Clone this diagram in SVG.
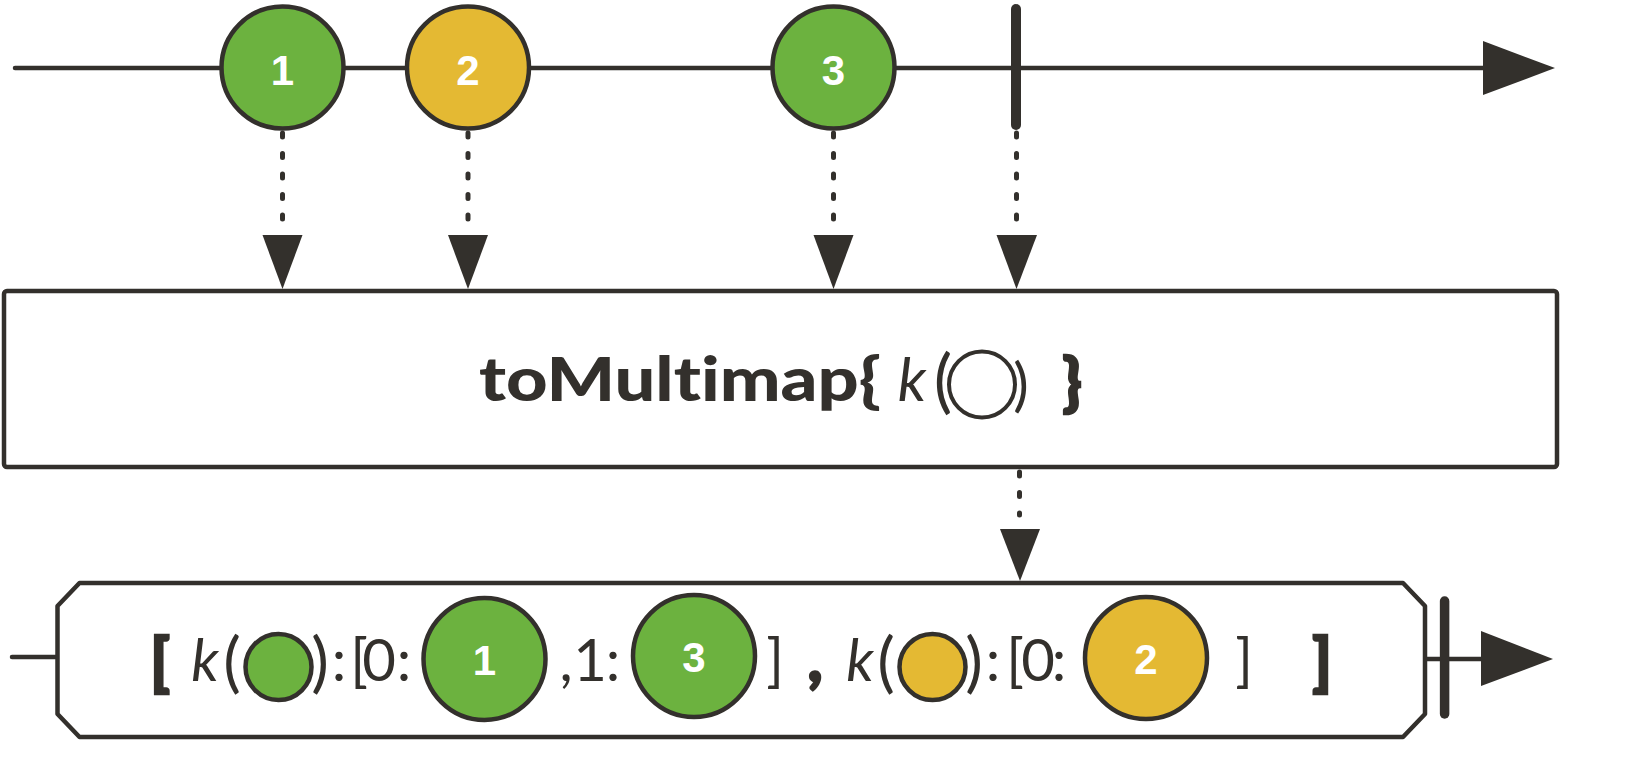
<svg xmlns="http://www.w3.org/2000/svg" width="1641" height="762" viewBox="0 0 1641 762">
<style>
.ln{stroke:#33302c;stroke-width:4.5;fill:none;stroke-linecap:round}
.dash{stroke:#33302c;stroke-width:5;fill:none;stroke-linecap:round;stroke-dasharray:4 16.5}
.ah{fill:#33302c}
.g{fill:#6cb23f;stroke:#33302c;stroke-width:4.5}
.y{fill:#e4b933;stroke:#33302c;stroke-width:4.5}
.o{fill:none;stroke:#33302c;stroke-width:4}
text{font-variant-ligatures:none}
.num{font-family:"Liberation Sans",Arial,sans-serif;font-weight:bold;font-size:42px;fill:#ffffff;text-anchor:middle}
.lt{font-family:Lato,"Open Sans",sans-serif;font-weight:400;font-size:58px;fill:#33302c;text-anchor:middle}
.it{font-style:italic}
.pr{font-size:66px}
.bd{font-family:Lato,"Open Sans",sans-serif;font-weight:900;font-size:62px;fill:#33302c;stroke:#33302c;stroke-width:2.5;text-anchor:middle}
.title{font-family:Lato,"Open Sans",sans-serif;font-weight:900;font-size:60px;fill:#33302c}
</style>
<g id="connectors">
<path class="dash" d="M282.5,133 V221"/>
<path class="ah" d="M262.5,235 H302.5 L282.5,289 Z"/>
<path class="dash" d="M468,133 V221"/>
<path class="ah" d="M448,235 H488 L468,289 Z"/>
<path class="dash" d="M833.5,133 V221"/>
<path class="ah" d="M813.5,235 H853.5 L833.5,289 Z"/>
<path class="dash" d="M1016.5,133 V221"/>
<path class="ah" d="M996.5,235 H1037 L1016.5,289 Z"/>
<path class="dash" d="M1019.5,472 V515"/>
<path class="ah" d="M1000,529 H1040 L1020,581 Z"/>
</g>
<g id="input-timeline">
<line class="ln" x1="15" y1="68" x2="1485" y2="68"/>
<path class="ah" d="M1483,41 L1555,68 L1483,95 Z"/>
<line x1="1016" y1="9" x2="1016" y2="125" stroke="#33302c" stroke-width="10" stroke-linecap="round"/>
</g>
<g id="marble-1">
<circle class="g" cx="282.5" cy="67.5" r="61"/>
<text class="num" x="282.5" y="85">1</text>
</g>
<g id="marble-2">
<circle class="y" cx="468" cy="67.5" r="61"/>
<text class="num" x="468" y="85">2</text>
</g>
<g id="marble-3">
<circle class="g" cx="833.5" cy="67.5" r="61"/>
<text class="num" x="833.5" y="85">3</text>
</g>
<g id="operator">
<rect x="4" y="291" width="1553" height="176" rx="3" fill="#ffffff" stroke="#33302c" stroke-width="4.5"/>
<text class="title" x="479" y="401" textLength="402" lengthAdjust="spacingAndGlyphs">toMultimap{</text>
<text class="lt" y="401"><tspan class="it" x="912" font-size="60">k</tspan><tspan x="943" y="405" font-size="69">(</tspan></text>
<circle class="o" cx="982" cy="384.5" r="33"/>
<text class="lt" x="1021" y="405" font-size="69">)</text>
<text class="bd" x="1072" y="404" font-size="68">}</text>
</g>
<g id="output-timeline">
<line class="ln" x1="12" y1="657" x2="57.5" y2="657"/>
<line class="ln" x1="1425" y1="659" x2="1483" y2="659" stroke-linecap="butt"/>
<path class="ah" d="M1481,631 L1553,659 L1481,686 Z"/>
<line x1="1444.6" y1="601" x2="1444.6" y2="714" stroke="#33302c" stroke-width="9.5" stroke-linecap="round"/>
</g>
<g id="result">
<path d="M79.5,583 L1403,583 L1425,606 L1425,714 L1403,737 L79.5,737 L57.5,714 L57.5,606 Z" fill="#ffffff" stroke="#33302c" stroke-width="4.5" stroke-linejoin="round"/>
<text class="bd" x="160" y="684">[</text>
<text class="lt" y="681"><tspan class="it" x="205">k</tspan><tspan class="pr" x="232" y="684.5">(</tspan></text>
<circle class="g" cx="278.5" cy="667" r="33"/>
<text class="lt" y="681"><tspan class="pr" x="320" y="684.5">)</tspan><tspan x="339" y="681">:</tspan><tspan x="359">[</tspan><tspan x="379">0</tspan><tspan x="404">:</tspan></text>
<circle class="g" cx="484.5" cy="659" r="61"/>
<text class="num" x="484.5" y="675">1</text>
<text class="lt" y="681"><tspan x="566">,</tspan><tspan x="590">1</tspan><tspan x="613">:</tspan></text>
<circle class="g" cx="694" cy="656" r="61"/>
<text class="num" x="694" y="672">3</text>
<text class="lt" x="775" y="681">]</text>
<text class="bd" x="815" y="681">,</text>
<text class="lt" y="681"><tspan class="it" x="860">k</tspan><tspan class="pr" x="886" y="684.5">(</tspan></text>
<circle class="y" cx="932.5" cy="667" r="33"/>
<text class="lt" y="681"><tspan class="pr" x="974" y="684.5">)</tspan><tspan x="993" y="681">:</tspan><tspan x="1015">[</tspan><tspan x="1038">0</tspan><tspan x="1059">:</tspan></text>
<circle class="y" cx="1146" cy="658" r="61"/>
<text class="num" x="1146" y="674">2</text>
<text class="lt" x="1244" y="681">]</text>
<text class="bd" x="1322" y="684">]</text>
</g>
</svg>
